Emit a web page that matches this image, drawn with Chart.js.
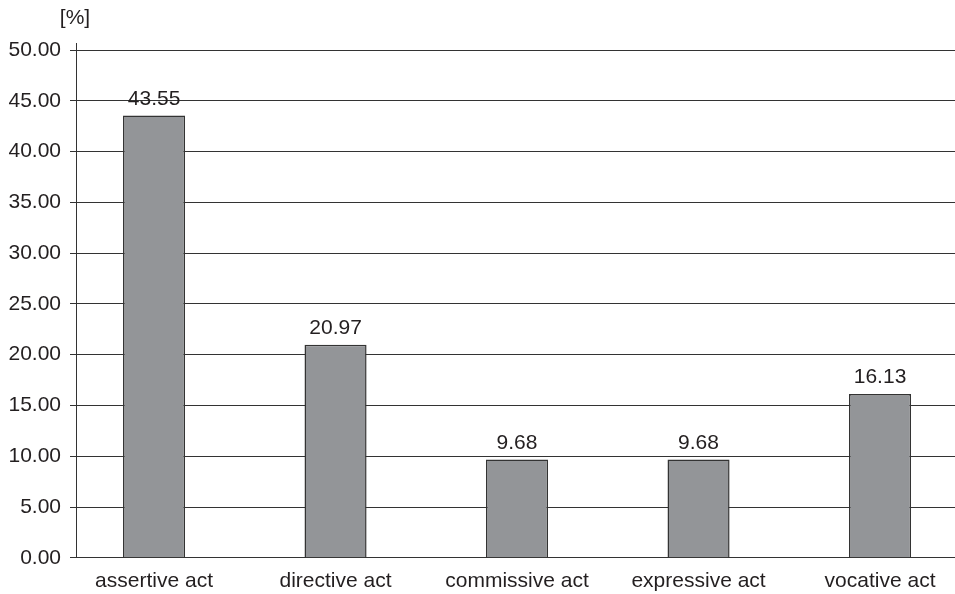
<!DOCTYPE html>
<html>
<head>
<meta charset="utf-8">
<script src="https://cdn.jsdelivr.net/npm/chart.js@4/dist/chart.umd.min.js"></script>
<style>
  html, body { margin: 0; padding: 0; background: #fff; }
  #wrap { width: 955px; height: 594px; }
</style>
</head>
<body>
<div id="wrap"><canvas id="c" width="955" height="594"></canvas></div>
<script>
// Speech act types and their shares in percent
const categories = ['assertive act', 'directive act', 'commissive act', 'expressive act', 'vocative act'];
const shares = [43.55, 20.97, 9.68, 9.68, 16.13];
const yTicks = [0, 5, 10, 15, 20, 25, 30, 35, 40, 45, 50];
const unitLabel = '[%]';

const INK = '#231f20';
const LINE = '#333333';
const FONT = { family: '"Liberation Sans", Arial, sans-serif', size: 21 };

// Value labels above each bar, plus the unit label at the top of the y axis
const annotate = {
  id: 'annotate',
  afterDatasetsDraw(chart) {
    const { ctx, chartArea } = chart;
    const meta = chart.getDatasetMeta(0);
    ctx.save();
    ctx.font = `${FONT.size}px ${FONT.family}`;
    ctx.fillStyle = INK;
    ctx.textAlign = 'center';
    ctx.textBaseline = 'bottom';
    meta.data.forEach((bar, i) => {
      ctx.fillText(shares[i].toFixed(2), bar.x, bar.y - 6);
    });
    // short extension of the y axis above the top gridline
    ctx.strokeStyle = LINE;
    ctx.lineWidth = 1;
    ctx.beginPath();
    ctx.moveTo(chartArea.left + 0.5, chartArea.top - 7);
    ctx.lineTo(chartArea.left + 0.5, chartArea.top);
    ctx.stroke();
    ctx.textBaseline = 'middle';
    ctx.fillText(unitLabel, chartArea.left - 1, chartArea.top - 32);
    ctx.restore();
  }
};

new Chart(document.getElementById('c'), {
  type: 'bar',
  data: {
    datasets: [{
      data: shares.map((v, i) => ({ x: i, y: v })),
      backgroundColor: '#939598',
      borderColor: LINE,
      borderWidth: 1.5,
      barPercentage: 0.342,
      categoryPercentage: 1
    }]
  },
  options: {
    responsive: false,
    animation: false,
    devicePixelRatio: 1,
    layout: { padding: { left: 8, right: 0, top: 50, bottom: -11 } },
    plugins: {
      legend: { display: false },
      tooltip: { enabled: false }
    },
    scales: {
      x: {
        type: 'linear',
        offset: false,
        min: -0.43,
        max: 4.413,
        afterBuildTicks(scale) {
          scale.ticks = categories.map((_, i) => ({ value: i }));
        },
        ticks: {
          callback: (v) => categories[v],
          color: INK,
          font: FONT,
          padding: 11,
          maxRotation: 0,
          autoSkip: false
        },
        grid: { display: false, drawTicks: false, tickLength: 0, offset: false },
        border: { display: true, color: LINE, width: 1 }
      },
      y: {
        min: 0,
        max: 50,
        afterBuildTicks(scale) {
          scale.ticks = yTicks.map(v => ({ value: v }));
        },
        afterFit(scale) {
          scale.width = 68;
        },
        ticks: {
          callback: (v) => Number(v).toFixed(2),
          color: INK,
          font: FONT,
          padding: 9
        },
        grid: { color: LINE, lineWidth: 1, tickLength: 6 },
        border: { display: true, color: LINE, width: 1 }
      }
    }
  },
  plugins: [annotate]
});
</script>
</body>
</html>
